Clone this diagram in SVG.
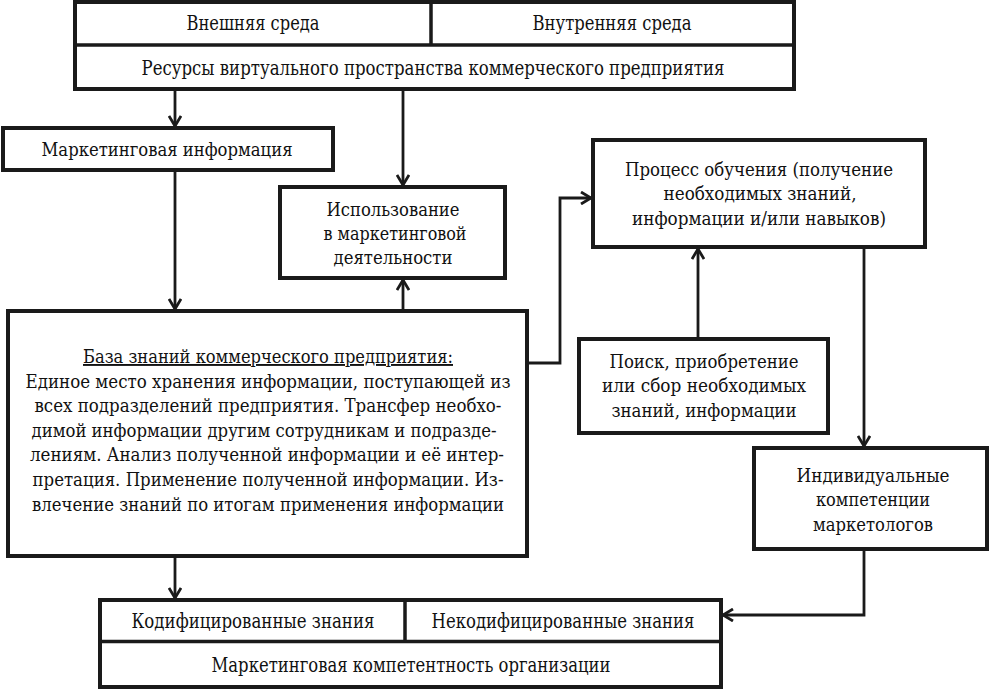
<svg xmlns="http://www.w3.org/2000/svg" width="992" height="690" viewBox="0 0 992 690">
<defs>
<marker id="arr" viewBox="0 0 12 14" refX="11" refY="7" markerWidth="12" markerHeight="14" markerUnits="userSpaceOnUse" orient="auto">
<path d="M1,1 L11,7 L1,13" fill="none" stroke="#1a1a1a" stroke-width="2.8"/>
</marker>
</defs>
<style>
.box{fill:#fff;stroke:#1a1a1a;stroke-width:4}
.div{fill:none;stroke:#1a1a1a;stroke-width:3.5}
text{font-family:'DejaVu Serif','Liberation Serif',serif;font-size:19px;fill:#111;text-anchor:middle}
.c{font-size:21px}
.con{fill:none;stroke:#1a1a1a;stroke-width:2.8;marker-end:url(#arr)}
</style>
<rect width="992" height="690" fill="#fff"/>
<g id="connectors">
<path class="con" d="M175,89 V126"/>
<path class="con" d="M403,89 V185"/>
<path class="con" d="M175,170 V309"/>
<path class="con" d="M403,311 V280"/>
<path class="con" d="M527,363 H560 V198 H591"/>
<path class="con" d="M698,339 V249"/>
<path class="con" d="M864,247 V446"/>
<path class="con" d="M864,549 V615 H723"/>
<path class="con" d="M175,556 V598"/>
</g>
<g id="top">
<rect class="box" x="75" y="2" width="719" height="87"/>
<path class="div" d="M75,45 H794 M431,2 V45"/>
<text class="c" x="253" y="30" textLength="133" lengthAdjust="spacingAndGlyphs">Внешняя среда</text>
<text class="c" x="612" y="30" textLength="159" lengthAdjust="spacingAndGlyphs">Внутренняя среда</text>
<text class="c" x="433" y="75" textLength="583" lengthAdjust="spacingAndGlyphs">Ресурсы виртуального пространства коммерческого предприятия</text>
</g>
<g id="marketing-info">
<rect class="box" x="3" y="128" width="330" height="42"/>
<text x="167" y="156" textLength="251" lengthAdjust="spacingAndGlyphs">Маркетинговая информация</text>
</g>
<g id="usage">
<rect class="box" x="280" y="187" width="225" height="91"/>
<text x="393" y="216" textLength="133" lengthAdjust="spacingAndGlyphs">Использование</text>
<text x="395" y="240" textLength="143" lengthAdjust="spacingAndGlyphs">в маркетинговой</text>
<text x="393" y="264" textLength="119" lengthAdjust="spacingAndGlyphs">деятельности</text>
</g>
<g id="knowledge-base">
<rect class="box" x="8" y="311" width="519" height="245"/>
<text x="268" y="363" textLength="370" lengthAdjust="spacingAndGlyphs" text-decoration="underline">База знаний коммерческого предприятия:</text>
<text x="268" y="388" textLength="485" lengthAdjust="spacingAndGlyphs">Единое место хранения информации, поступающей из</text>
<text x="268" y="412" textLength="467" lengthAdjust="spacingAndGlyphs">всех подразделений предприятия. Трансфер необхо-</text>
<text x="264" y="437" textLength="465" lengthAdjust="spacingAndGlyphs">димой информации другим сотрудникам и подразде-</text>
<text x="267" y="461" textLength="474" lengthAdjust="spacingAndGlyphs">лениям. Анализ полученной информации и её интер-</text>
<text x="268" y="486" textLength="471" lengthAdjust="spacingAndGlyphs">претация. Применение полученной информации. Из-</text>
<text x="268" y="511" textLength="472" lengthAdjust="spacingAndGlyphs">влечение знаний по итогам применения информации</text>
</g>
<g id="learning">
<rect class="box" x="593" y="140" width="332" height="107"/>
<text x="759" y="176" textLength="268" lengthAdjust="spacingAndGlyphs">Процесс обучения (получение</text>
<text x="760" y="200" textLength="193" lengthAdjust="spacingAndGlyphs">необходимых знаний,</text>
<text x="759" y="225" textLength="254" lengthAdjust="spacingAndGlyphs">информации и/или навыков)</text>
</g>
<g id="search">
<rect class="box" x="579" y="339" width="249" height="94"/>
<text x="704" y="368" textLength="189" lengthAdjust="spacingAndGlyphs">Поиск, приобретение</text>
<text x="704" y="392" textLength="204" lengthAdjust="spacingAndGlyphs">или сбор необходимых</text>
<text x="704" y="417" textLength="185" lengthAdjust="spacingAndGlyphs">знаний, информации</text>
</g>
<g id="individual">
<rect class="box" x="754" y="448" width="233" height="101"/>
<text x="873" y="482" textLength="153" lengthAdjust="spacingAndGlyphs">Индивидуальные</text>
<text x="873" y="506" textLength="114" lengthAdjust="spacingAndGlyphs">компетенции</text>
<text x="873" y="531" textLength="120" lengthAdjust="spacingAndGlyphs">маркетологов</text>
</g>
<g id="bottom">
<rect class="box" x="100" y="600" width="621" height="87"/>
<path class="div" d="M100,641.5 H721 M405,600 V641.5"/>
<text class="c" x="253" y="628" textLength="243" lengthAdjust="spacingAndGlyphs">Кодифицированные знания</text>
<text class="c" x="563" y="628" textLength="263" lengthAdjust="spacingAndGlyphs">Некодифицированные знания</text>
<text class="c" x="411" y="672" textLength="399" lengthAdjust="spacingAndGlyphs">Маркетинговая компетентность организации</text>
</g>
</svg>
